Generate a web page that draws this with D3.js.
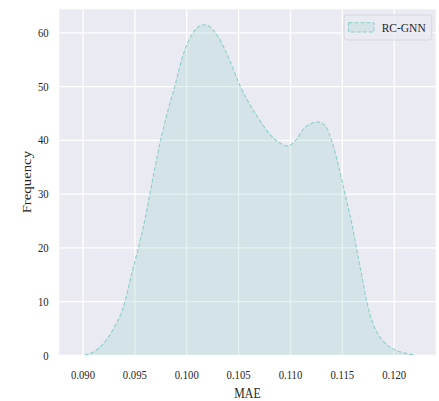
<!DOCTYPE html>
<html>
<head>
<meta charset="utf-8">
<script src="https://cdn.jsdelivr.net/npm/d3@7"></script>
<style>
  body { margin: 0; background: #fff; }
  text { font-family: "Liberation Serif", "DejaVu Serif", serif; fill: #262626; }
</style>
</head>
<body>
<script>
// KDE curve
let mae = [0.0902, 0.0910, 0.0918, 0.0925, 0.0931, 0.0937, 0.0941, 0.0947, 0.0954, 0.0960,
           0.0965, 0.0970, 0.0975, 0.0982, 0.0989, 0.0994, 0.0999, 0.1005, 0.1011, 0.1017,
           0.1023, 0.1030, 0.1037, 0.1044, 0.1052, 0.1060, 0.1068, 0.1079, 0.1088, 0.1098,
           0.1106, 0.1112, 0.1119, 0.1128, 0.1134, 0.1140, 0.1147, 0.1153, 0.1159, 0.1164,
           0.1169, 0.1174, 0.1178, 0.1184, 0.1194, 0.1206, 0.1214, 0.1220];
let freq = [0, 0.5, 1.7, 3.3, 5.3, 7.6, 10, 14.8, 20, 25,
            30, 35, 39.7, 45.2, 50, 53.8, 56.9, 59.4, 60.9, 61.4,
            61.0, 59.4, 56.9, 53.8, 50, 47, 44.5, 41.4, 39.7, 38.9,
            40, 41.8, 42.9, 43.3, 42.6, 40, 35, 30, 25, 20,
            15, 10, 7, 4.2, 1.8, 0.6, 0.2, 0];
let xTicks = [0.090, 0.095, 0.100, 0.105, 0.110, 0.115, 0.120];
let yTicks = [0, 10, 20, 30, 40, 50, 60];
let seriesName = "RC-GNN";

let W = 439, H = 401;
let margin = {top: 9.3, right: 3.3, bottom: 46, left: 59.3}
    , width = W - margin.left - margin.right
    , height = H - margin.top - margin.bottom;
let squeeze = 0.87; // glyphs in the reference are narrower than they are tall
let lineColor = "#8ecfc9";

let data = mae.map((x, i) => ({x: x, y: freq[i]}));

let xScale = d3.scaleLinear().domain([0.087763, 0.12405]).range([0, width]);
let yScale = d3.scaleLinear().domain([0, 64.28]).range([height, 0]);

let svg = d3.select("body").append("svg")
    .attr("width", W)
    .attr("height", H)
    .append("g")
    .attr("transform", "translate(" + margin.left + "," + margin.top + ")");

svg.append("rect")
    .attr("width", width)
    .attr("height", height)
    .attr("fill", "#eaeaf2");

// grid
svg.append("g")
    .attr("transform", "translate(0," + height + ")")
    .call(d3.axisBottom(xScale).tickValues(xTicks).tickSize(-height).tickFormat(""))
    .call(g => g.select(".domain").remove())
    .selectAll("line").attr("stroke", "#fff").attr("stroke-width", 1.3);
svg.append("g")
    .call(d3.axisLeft(yScale).tickValues(yTicks).tickSize(-width).tickFormat(""))
    .call(g => g.select(".domain").remove())
    .selectAll("line").attr("stroke", "#fff").attr("stroke-width", 1.3);

// density
let area = d3.area()
    .x(d => xScale(d.x))
    .y0(yScale(0))
    .y1(d => yScale(d.y))
    .curve(d3.curveCatmullRom.alpha(0.5));
let line = d3.line()
    .x(d => xScale(d.x))
    .y(d => yScale(d.y))
    .curve(d3.curveCatmullRom.alpha(0.5));

svg.append("path")
    .datum(data)
    .attr("d", area)
    .attr("fill", lineColor)
    .attr("fill-opacity", 0.25);
svg.append("path")
    .datum(data)
    .attr("d", line)
    .attr("fill", "none")
    .attr("stroke", lineColor)
    .attr("stroke-width", 1.1)
    .attr("stroke-dasharray", "4,2");

// axes labels
let xAxis = svg.append("g")
    .attr("transform", "translate(0," + height + ")")
    .call(d3.axisBottom(xScale).tickValues(xTicks).tickSize(0).tickFormat(d3.format(".3f")));
xAxis.select(".domain").remove();
xAxis.selectAll("text")
    .attr("y", 24.5)
    .attr("dy", 0)
    .attr("font-size", 12.3)
    .attr("transform", "scale(" + squeeze + ",1)");

let yAxis = svg.append("g")
    .call(d3.axisLeft(yScale).tickValues(yTicks).tickSize(0));
yAxis.select(".domain").remove();
yAxis.selectAll("text")
    .attr("x", -10.7 / squeeze)
    .attr("dy", "0.33em")
    .attr("font-size", 12.3)
    .attr("transform", "scale(" + squeeze + ",1)");

svg.append("text")
    .attr("transform", "translate(" + (width / 2) + "," + (height + 42.7) + ") scale(" + squeeze + ",1)")
    .attr("text-anchor", "middle")
    .attr("font-size", 13.6)
    .text("MAE");

svg.append("text")
    .attr("transform", "translate(" + (30.5 - margin.left) + "," + (height / 2) + ") scale(" + squeeze + ",1) rotate(-90)")
    .attr("text-anchor", "middle")
    .attr("font-size", 14.8)
    .text("Frequency");

// legend
let legend = svg.append("g")
    .attr("transform", "translate(" + (344 - margin.left) + "," + (15 - margin.top) + ")");
legend.append("rect")
    .attr("width", 87.7)
    .attr("height", 25)
    .attr("rx", 3)
    .attr("fill", "#eaeaf2")
    .attr("fill-opacity", 0.8)
    .attr("stroke", "#d6d6de")
    .attr("stroke-width", 0.9);
legend.append("rect")
    .attr("x", 4.5)
    .attr("y", 7.7)
    .attr("width", 25.5)
    .attr("height", 9.3)
    .attr("fill", lineColor)
    .attr("fill-opacity", 0.25)
    .attr("stroke", lineColor)
    .attr("stroke-width", 1)
    .attr("stroke-dasharray", "4,2");
legend.append("text")
    .attr("transform", "translate(37.7,16.7) scale(" + squeeze + ",1)")
    .attr("font-size", 13.2)
    .text(seriesName);
</script>
</body>
</html>
